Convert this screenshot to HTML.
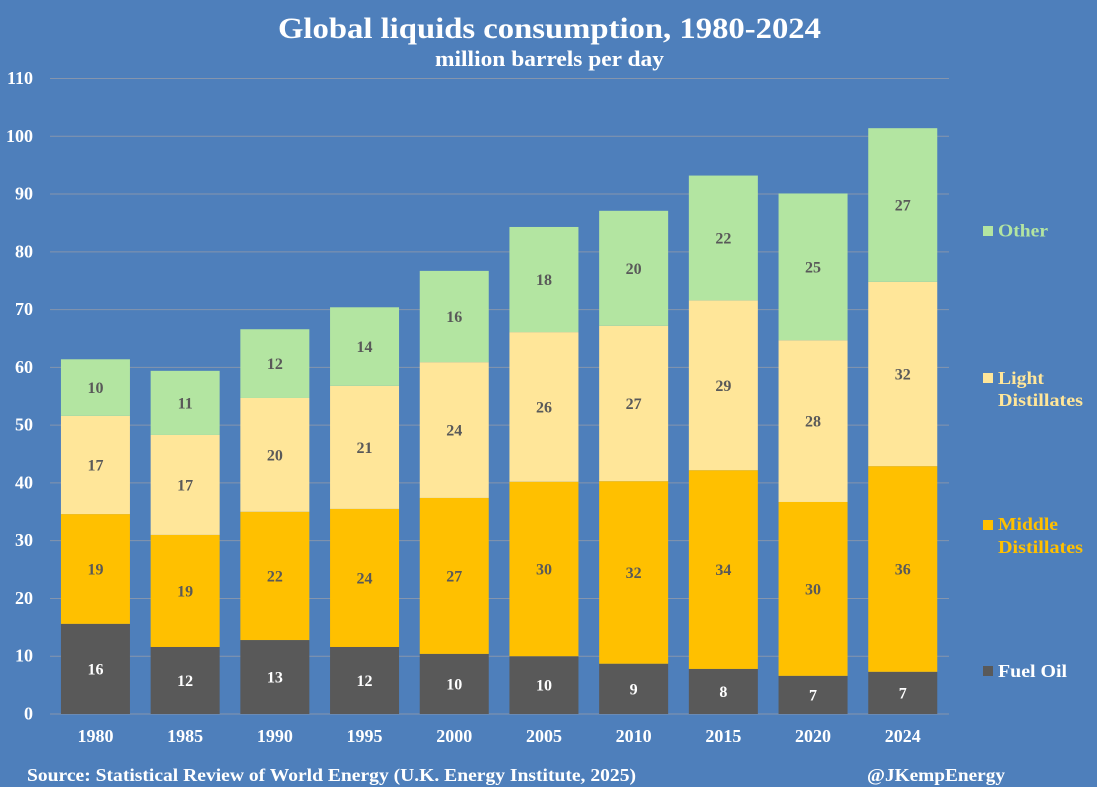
<!DOCTYPE html>
<html lang="en">
<head>
<meta charset="utf-8">
<title>Global liquids consumption, 1980-2024</title>
<style>
html,body{margin:0;padding:0;background:#4e7fbb;}
svg{display:block;}
text{font-family:"Liberation Serif",serif;font-weight:bold;}
</style>
</head>
<body>
<svg id="chart" width="1097" height="787" viewBox="0 0 1097 787" xmlns="http://www.w3.org/2000/svg">
<rect x="0" y="0" width="1097" height="787" fill="#4e7fbb"/>
<text x="549.5" y="38" text-anchor="middle" font-size="30" fill="#fff" textLength="543" lengthAdjust="spacingAndGlyphs">Global liquids consumption, 1980-2024</text>
<text x="549.5" y="66" text-anchor="middle" font-size="22" fill="#fff" textLength="229" lengthAdjust="spacingAndGlyphs">million barrels per day</text>
<g id="grid"></g>
<g id="y-axis"></g>
<g id="bars"></g>
<g id="x-axis"></g>

<g>
<g>
<rect x="983" y="226" width="10" height="10" fill="#b3e5a1"/>
<text x="998" y="236.5" font-size="18" fill="#b3e5a1" textLength="50" lengthAdjust="spacingAndGlyphs">Other</text>
</g>
<g>
<rect x="983" y="373" width="10" height="10" fill="#ffe699"/>
<text x="998" y="384" font-size="18" fill="#ffe699" textLength="46" lengthAdjust="spacingAndGlyphs">Light</text>
<text x="998" y="406" font-size="18" fill="#ffe699" textLength="85" lengthAdjust="spacingAndGlyphs">Distillates</text>
</g>
<g>
<rect x="983" y="520" width="10" height="10" fill="#ffc000"/>
<text x="998" y="530" font-size="18" fill="#ffc000" textLength="60" lengthAdjust="spacingAndGlyphs">Middle</text>
<text x="998" y="553" font-size="18" fill="#ffc000" textLength="85" lengthAdjust="spacingAndGlyphs">Distillates</text>
</g>
<g>
<rect x="983" y="666" width="10" height="10" fill="#595959"/>
<text x="998" y="677" font-size="18" fill="#fff" textLength="69" lengthAdjust="spacingAndGlyphs">Fuel Oil</text>
</g>
</g>

<text x="27" y="781" font-size="18" fill="#fff" textLength="609" lengthAdjust="spacingAndGlyphs">Source: Statistical Review of World Energy (U.K. Energy Institute, 2025)</text>
<text x="867" y="781" font-size="18" fill="#fff" textLength="138" lengthAdjust="spacingAndGlyphs">@JKempEnergy</text>

<script>
const categories = ["1980","1985","1990","1995","2000","2005","2010","2015","2020","2024"];
const fuelOil = [15.6,11.6,12.8,11.6,10.4,10.0,8.7,7.8,6.6,7.3];
const middleDistillates = [19.0,19.4,22.2,23.9,27.0,30.2,31.6,34.4,30.1,35.6];
const lightDistillates = [17.0,17.3,19.7,21.3,23.5,25.9,26.9,29.4,28.0,31.9];
const other = [9.8,11.1,11.9,13.6,15.8,18.2,19.9,21.6,25.4,26.6];
const yTicks = [0,10,20,30,40,50,60,70,80,90,100,110];

const NS = "http://www.w3.org/2000/svg";
const plot = {left:50.6, right:947.6, gridLeft:50, gridRight:949, bottom:714, top:78.5, yMax:110, barWidth:69};
function yScale(v){ return plot.bottom - (v / plot.yMax) * (plot.bottom - plot.top); }
function xCenter(i){ return plot.left + (i + 0.5) * (plot.right - plot.left) / categories.length; }
function make(tag, attrs, parent, content){
  const el = document.createElementNS(NS, tag);
  for (const k in attrs) el.setAttribute(k, attrs[k]);
  if (content !== undefined) el.textContent = content;
  parent.appendChild(el);
  return el;
}

const gridGroup = document.getElementById('grid');
const yGroup = document.getElementById('y-axis');
yTicks.forEach(function(t){
  const line = make('line', {x1:plot.gridLeft, x2:plot.gridRight, y1:yScale(t), y2:yScale(t), stroke:'#8595ad', 'stroke-width':1}, gridGroup);
  
  
  const label = make('text', {x:33, y:yScale(t) + 5.5, 'text-anchor':'end', 'font-size':18, fill:'#fff'}, yGroup, String(t));
  
  
});

const seriesList = [
  {key:'fuel-oil', values:fuelOil, color:'#595959', text:'#ffffff'},
  {key:'middle-distillates', values:middleDistillates, color:'#ffc000', text:'#595959'},
  {key:'light-distillates', values:lightDistillates, color:'#ffe699', text:'#595959'},
  {key:'other', values:other, color:'#b3e5a1', text:'#595959'}
];
const barsGroup = document.getElementById('bars');
const xGroup = document.getElementById('x-axis');
categories.forEach(function(cat, i){
  let base = 0;
  const cx = xCenter(i);
  seriesList.forEach(function(s){
    const v = s.values[i];
    const yTop = yScale(base + v);
    const yBase = yScale(base);
    const bar = make('rect', {x:cx - plot.barWidth / 2, y:yTop, width:plot.barWidth, height:yBase - yTop, fill:s.color}, barsGroup);
    
    
    const val = make('text', {x:cx, y:(yTop + yBase) / 2 + 5.5, 'text-anchor':'middle', 'font-size':16, fill:s.text}, barsGroup, String(Math.round(v)));
    
    
    base += v;
  });
  const tick = make('text', {x:cx, y:742, 'text-anchor':'middle', 'font-size':18, fill:'#fff'}, xGroup, cat);
  
  
});
</script>
</svg>
</body>
</html>
